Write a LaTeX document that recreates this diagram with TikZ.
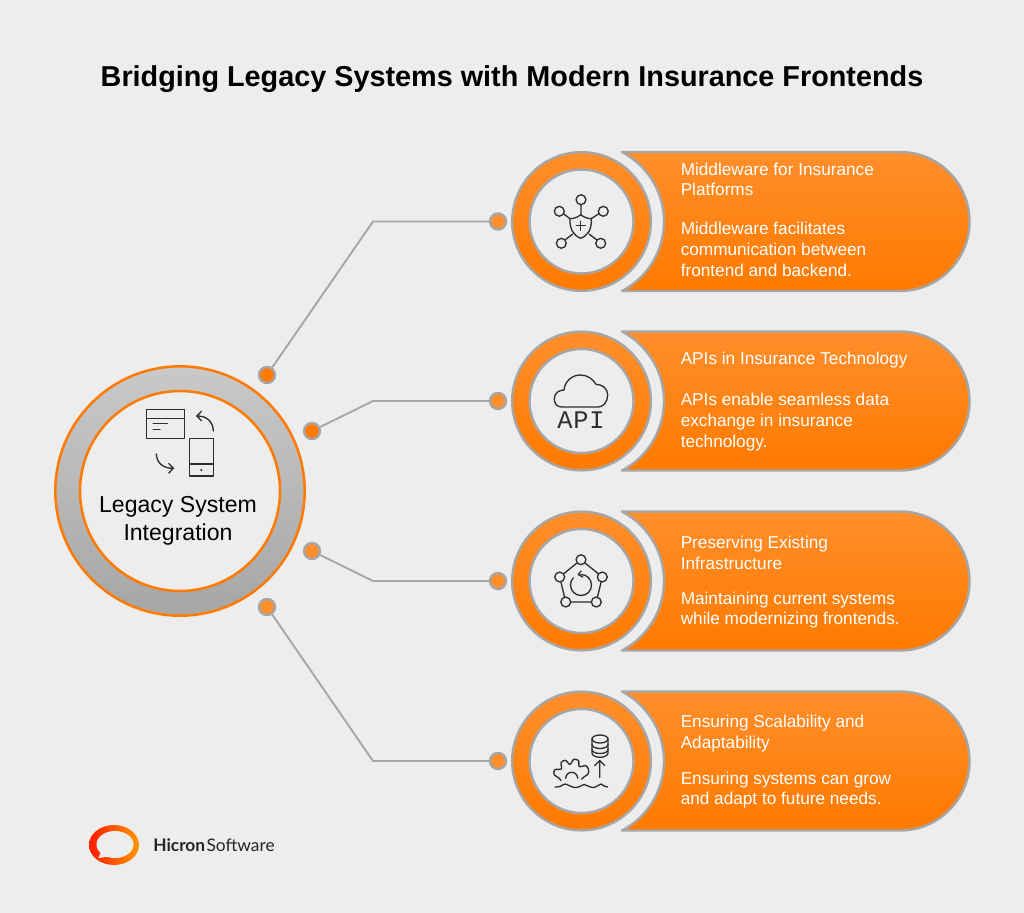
\documentclass[tikz,border=0pt]{standalone}
\usepackage{fontspec}
\setmainfont{Liberation Sans}
\newfontfamily\monofont{Liberation Mono}
\newfontfamily\logofont{Lato}
\usetikzlibrary{arrows.meta}
\definecolor{bgc}{HTML}{EDEDED}
\definecolor{orangeT}{HTML}{FF8E2B}
\definecolor{orangeB}{HTML}{FF7A00}
\definecolor{edgec}{HTML}{A6A6A6}
\definecolor{inkc}{HTML}{2E2E2E}
\definecolor{ringT}{HTML}{C9C9C9}
\definecolor{ringB}{HTML}{A6A6A6}
\tikzset{
  disc/.style={circle,draw=edgec,line width=1.8pt,top color=orangeT,bottom color=orangeB,minimum size=104pt,inner sep=0pt},
  hole/.style={circle,draw=edgec,line width=1.8pt,fill=bgc,minimum size=78pt,inner sep=0pt},
  tab/.style={draw=edgec,line width=1.8pt,line join=round,top color=orangeT,bottom color=orangeB},
  dot/.style={circle,draw=edgec,line width=1.8pt,fill=#1,minimum size=12pt,inner sep=0pt},
  wire/.style={draw=edgec,line width=1.4pt},
  elbow/.style={inner sep=0pt,minimum size=0pt},
  ico/.style={draw=inkc,line width=1pt,line cap=round,line join=round},
  icon/.style={circle,draw=inkc,line width=1pt,fill=bgc,minimum size=7.4pt,inner sep=0pt},
  tip/.style={-{Straight Barb[length=3.6pt,width=7.5pt,line width=1pt]}},
  txt/.style={text=white,anchor=west,align=left,inner sep=0pt,font=\fontsize{12.9pt}{15.5pt}\selectfont}
}
\newcommand{\rowshapes}[2]{%
  \path[tab] (622,#2-69.5) -- (900,#2-69.5) arc[start angle=-90,end angle=90,radius=69.5]
     -- (622,#2+69.5) arc[start angle=62.3,end angle=-62.3,radius=78.5] -- cycle;
  \node[disc] (disc#1) at (581.5,#2) {};
  \node[hole] (hole#1) at (581.5,#2) {};
}
\begin{document}
\begin{tikzpicture}[x=.75pt,y=-.75pt]
\useasboundingbox (0,0) rectangle (1024,913);
\fill[bgc] (0,0) rectangle (1024,913);
% title
\node[inner sep=0pt,font=\bfseries\fontsize{21.6pt}{24pt}\selectfont] (title) at (512,79.5) {Bridging Legacy Systems with Modern Insurance Frontends};
% hub
\node[circle,draw=orangeB,line width=1.9pt,top color=ringT,bottom color=ringB,minimum size=187pt,inner sep=0pt] (hubring) at (180,491) {};
\node[circle,draw=orangeB,line width=1.9pt,fill=bgc,minimum size=150pt,inner sep=0pt] (hub) at (180,491) {};
\node[inner sep=0pt,align=center,font=\fontsize{17.3pt}{20.6pt}\selectfont] (hubtext) at (178,521) {Legacy System\\Integration};
% hub icon
\draw[ico] (146.7,409.3) rectangle (184.3,438.3) (146.7,418.3) -- (184.3,418.3)
  (153.3,423.7) -- (167.3,423.7) (153.3,429.7) -- (160,429.7);
\draw[ico] (189.7,438.3) rectangle (213.3,476) (189.7,464) -- (213.3,464);
\fill[inkc] (201.3,470) circle (1.2);
\draw[ico,tip] (213.3,431) .. controls (213,421) and (206,416) .. (196,416);
\draw[ico,tip] (156.3,454) .. controls (157,464) and (164,468.3) .. (174.3,468.3);
% rows
\rowshapes{1}{221.5}
\rowshapes{2}{401}
\rowshapes{3}{581}
\rowshapes{4}{761}
% dots
\node[dot=orangeB] (l1) at (267,375) {};
\node[dot=orangeB] (l2) at (312,431) {};
\node[dot=orangeT] (l3) at (312,551) {};
\node[dot=orangeT] (l4) at (267,607) {};
\node[dot=orangeT] (r1) at (498,221.5) {};
\node[dot=orangeT] (r2) at (498,401) {};
\node[dot=orangeT] (r3) at (498,581) {};
\node[dot=orangeT] (r4) at (498,761) {};
\node[elbow] (e1) at (373,221.5) {};
\node[elbow] (e2) at (373,401) {};
\node[elbow] (e3) at (373,581) {};
\node[elbow] (e4) at (373,761) {};
\draw[wire] (l1) -- (e1.center) -- (r1);
\draw[wire] (l2) -- (e2.center) -- (r2);
\draw[wire] (l3) -- (e3.center) -- (r3);
\draw[wire] (l4) -- (e4.center) -- (r4);
% row texts
\node[txt] (h1) at (680.5,179.5) {Middleware for Insurance\\Platforms};
\node[txt] (b1) at (680.5,249.3) {Middleware facilitates\\communication between\\frontend and backend.};
\node[txt] (h2) at (680.5,360.5) {APIs in Insurance Technology};
\node[txt] (b2) at (680.5,422) {APIs enable seamless data\\exchange in insurance\\technology.};
\node[txt] (h3) at (680.5,553) {Preserving Existing\\Infrastructure};
\node[txt] (b3) at (680.5,610) {Maintaining current systems\\while modernizing frontends.};
\node[txt] (h4) at (680.5,733.5) {Ensuring Scalability and\\Adaptability};
\node[txt] (b4) at (680.5,790) {Ensuring systems can grow\\and adapt to future needs.};
% icon 1
\draw[ico] (581,204.4) -- (581,214.7)
  (563.3,213.6) -- (570,218.7) (599,213.6) -- (591.3,218.7)
  (565,240) -- (572.7,234) (597,240) -- (589,234);
\draw[ico] (570,218.7) .. controls (574,218.7) and (578,217) .. (580.7,214.7) .. controls (583.5,217) and (587.5,218.7) .. (591.3,218.7)
  .. controls (592,229) and (588,235.5) .. (580.7,238.3) .. controls (573.5,235.5) and (569.5,229) .. (570,218.7) -- cycle;
\draw[ico] (576.2,225.7) -- (585.2,225.7) (580.7,221.2) -- (580.7,230.2);
\node[icon] (n1a) at (581,199.7) {};
\node[icon] (n1b) at (559.3,211.3) {};
\node[icon] (n1c) at (603.3,211.3) {};
\node[icon] (n1d) at (561.3,243.3) {};
\node[icon] (n1e) at (600.7,243.3) {};
% icon 2
\draw[ico] (561.7,407) .. controls (556.5,407) and (554.3,403) .. (554.3,399)
  .. controls (554.3,393) and (559,390) .. (564,390)
  .. controls (565,381) and (572,375) .. (580.7,375)
  .. controls (587,375) and (593,379) .. (596,384.3)
  .. controls (603,384.5) and (607.7,389) .. (607.7,395)
  .. controls (607.7,402) and (603,407) .. (598.3,407) -- cycle;
\node[inner sep=0pt,text=inkc,font=\monofont\fontsize{19pt}{20pt}\selectfont] (apitxt) at (581,420.5) {A\hspace{.6pt}P\hspace{.6pt}I};
% icon 3
\node[icon] (n3a) at (581,559.7) {};
\node[icon] (n3b) at (602.3,577) {};
\node[icon] (n3c) at (596.3,602) {};
\node[icon] (n3d) at (565.7,602) {};
\node[icon] (n3e) at (559.7,577) {};
\draw[ico] (n3a) -- (n3b) -- (n3c) -- (n3d) -- (n3e) -- (n3a);
\draw[ico] (581,574.5) arc[start angle=-90,end angle=222,radius=10.5];
\draw[ico] (581,571) -- (578.3,574.7) -- (582.7,577);
% icon 4
\draw[ico] (600,739) ellipse[x radius=8,y radius=4];
\draw[ico] (592,739) -- (592,753) .. controls (592,755.5) and (596,757.3) .. (600,757.3) .. controls (604,757.3) and (608,755.5) .. (608,753) -- (608,739);
\draw[ico] (592,744.5) .. controls (592,747) and (596,748.5) .. (600,748.5) .. controls (604,748.5) and (608,747) .. (608,744.5);
\draw[ico] (592,749.5) .. controls (592,752) and (596,753.5) .. (600,753.5) .. controls (604,753.5) and (608,752) .. (608,749.5);
\draw[ico] (599.7,777.3) -- (599.7,760.5) (594.7,765.5) -- (599.7,760.5) -- (604.7,765.5);
\begin{scope}[shift={(571.7,778.3)}]
\draw[ico] plot[smooth,tension=.55] coordinates {(168:11) (182:13) (192:18) (207:19) (222:14) (236:19) (251:19) (263:14) (276:19) (291:19) (303:14) (318:19) (332:19) (345:17) (352:13) (365:10)};
\draw[ico] (-6,0) arc[start angle=180,end angle=360,radius=6];
\end{scope}
\draw[ico] plot[smooth,tension=.6] coordinates {(555,787) (560,786.5) (565,784) (570,786) (575,787.5) (580,786.5) (584,784.5) (589,786.5) (594,787.5) (598,785.5) (601,784) (604,786) (607.7,787)};
% logo
\shade[left color=red!80!orange,right color=orange!80!yellow] (114,845) ellipse[x radius=25,y radius=20];
\fill[bgc] (115,844.5) ellipse[x radius=18.5,y radius=13.5];
\fill[bgc] (98.3,858) -- (102,850) -- (110,856.5) -- cycle;
\node[anchor=west,inner sep=0pt,text=black!85,font=\logofont\fontsize{13pt}{15pt}\selectfont] (logotxt) at (153,845) {\textbf{Hicron}\hspace{1pt}Software};
\end{tikzpicture}
\end{document}
